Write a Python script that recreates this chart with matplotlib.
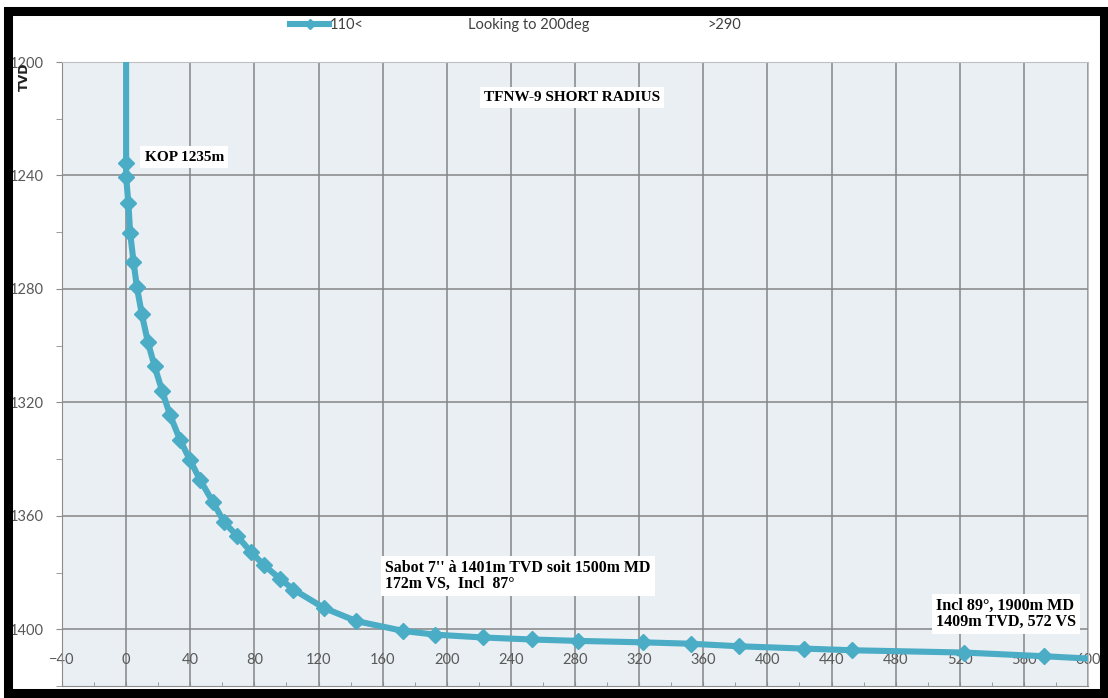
"""
TFNW-9 short radius well profile (TVD vs vertical section)
"""
import matplotlib
matplotlib.use("Agg")
import matplotlib.pyplot as plt
from matplotlib.patches import Rectangle
from matplotlib.ticker import MultipleLocator

# survey points: vertical section (m) and TVD (m)
vs = [0, 0, 0, 1.4, 2.5, 4.6, 6.7, 9.8, 13.5, 17.7, 22.5, 27.4, 33.7, 39.9,
      46.2, 54.0, 61.1, 69.4, 77.8, 86.0, 95.8, 104.4, 123.5, 143.5, 173.0,
      192.8, 222.9, 253.0, 282.0, 322.3, 352.2, 382.6, 422.6, 452.7, 522.4,
      572.3, 610.0]
tvd = [0, 1235.5, 1240.5, 1249.8, 1260.2, 1270.4, 1279.3, 1288.9, 1298.6,
       1307.2, 1316.0, 1324.5, 1333.3, 1340.4, 1347.4, 1355.0, 1362.2, 1367.2,
       1372.7, 1377.4, 1382.1, 1386.0, 1392.5, 1397.1, 1400.6, 1401.9, 1402.9,
       1403.6, 1404.1, 1404.6, 1405.1, 1406.0, 1406.8, 1407.4, 1408.2, 1409.5,
       1410.6]

x_ticks = list(range(-40, 601, 40))
y_ticks = list(range(1200, 1401, 40))

line_color = '#4BACC6'
label_color = '#595959'
serif = 'Liberation Serif'
sans = 'Lato'

fig = plt.figure(figsize=(11.08, 6.98), dpi=100)
ax = fig.add_axes([62/1108, 1-686/698, (1088-62)/1108, (686-62)/698])
ax.set_facecolor('#E9EFF3')

ax.plot(vs, tvd, color=line_color, lw=4.4, marker='D', ms=7.8,
        mec=line_color, mfc=line_color, label='110<', zorder=3)

ax.set_xlim(-40, 600)
ax.set_ylim(1420, 1200)
ax.set_xticks(x_ticks)
ax.set_yticks(y_ticks)
ax.xaxis.set_minor_locator(MultipleLocator(20))
ax.yaxis.set_minor_locator(MultipleLocator(20))
ax.grid(which='major', color='#858585', lw=1.1, zorder=1)
ax.set_axisbelow(True)

# x labels sit just under the 1400 line, like the excel axis crossing
ax.tick_params(axis='x', which='both', direction='in', length=3,
               color='#8C8C8C', pad=-23.5, labelsize=10.5,
               labelcolor=label_color)
ax.tick_params(axis='y', which='both', direction='out', length=4,
               color='#8C8C8C', pad=9, labelsize=10.5,
               labelcolor=label_color)
for lab in ax.get_xticklabels() + ax.get_yticklabels():
    lab.set_fontfamily(sans)
for sp in ax.spines.values():
    sp.set_color('#BFBFBF')
ax.spines['left'].set_color('#8C8C8C')
ax.spines['bottom'].set_color('#8C8C8C')

fig.text(24/1108, 1-77/698, 'TVD', rotation=90, ha='center', va='center',
         fontsize=9, fontweight='bold', color='#222222')

box = dict(facecolor='white', edgecolor='none', pad=3)
ax.text(278, 1212.5, 'TFNW-9 SHORT RADIUS', ha='center', va='center',
        fontsize=11, fontweight='bold', family=serif, bbox=box, zorder=4)
ax.text(11.5, 1233.5, 'KOP 1235m', ha='left', va='center',
        fontsize=11, fontweight='bold', family=serif, bbox=box, zorder=4)
ax.text(161.5, 1381.3, "Sabot 7'' à 1401m TVD soit 1500m MD\n172m VS,  Incl  87°",
        ha='left', va='center', fontsize=11.4, fontweight='bold', family=serif,
        linespacing=1.0, bbox=box, zorder=4)
ax.text(505, 1394.7, 'Incl 89°, 1900m MD\n1409m TVD, 572 VS',
        ha='left', va='center', fontsize=11.6, fontweight='bold', family=serif,
        linespacing=1.0, bbox=box, zorder=4)

# legend row at the top
fig.legend(loc='center left', bbox_to_anchor=(290/1108, 1-25/698),
           frameon=False, handlelength=2.7, handletextpad=0.05,
           borderpad=0, borderaxespad=0, markerscale=0.7,
           prop={'family': sans, 'size': 10.5}, labelcolor='#404040')
fig.text(468/1108, 1-25/698, 'Looking to 200deg', ha='left', va='center',
         fontsize=10.5, family=sans, color='#404040')
fig.text(707/1108, 1-25/698, '>290', ha='left', va='center',
         fontsize=10.5, family=sans, color='#404040')

# heavy black frame round the whole chart
fig.add_artist(Rectangle((8/1108, 5/698), 1096/1108, 682/698,
                         transform=fig.transFigure, fill=False,
                         edgecolor='black', lw=6.5))

plt.savefig('out.png', dpi=100)
plt.close()
